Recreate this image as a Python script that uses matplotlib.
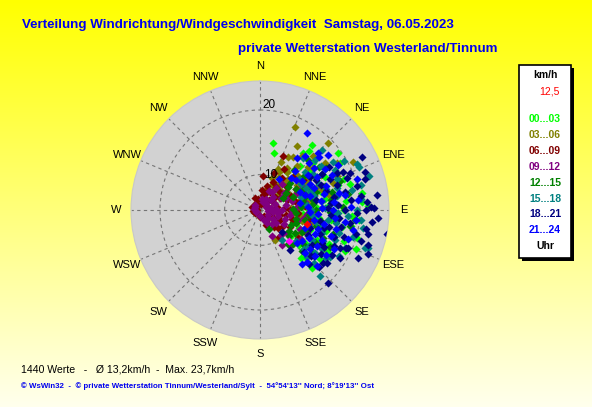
import numpy as np
import matplotlib.pyplot as plt
from matplotlib.patches import Rectangle

# figure size in pixels
W, H = 592, 407

# compass labels, clockwise from north
compass = ["N", "NNE", "NE", "ENE", "E", "ESE", "SE", "SSE",
           "S", "SSW", "SW", "WSW", "W", "WNW", "NW", "NNW"]

# time bins (legend) and their colours
bins = ["00...03", "03...06", "06...09", "09...12", "12...15", "15...18", "18...21", "21...24"]
bin_colors = ["#00FF00", "#808000", "#800000", "#800080", "#008000", "#008080", "#000080", "#0000FF"]

# readings per time bin: (direction in degrees, speed in km/h)
pts_00_03 = [(10.6, 15.5), (14.2, 14.0), (37, 16.0), (38.5, 17.7), (59.7, 19.0), (80.3, 20.4),
             (85.3, 20.3), (106.3, 20.1), (115.8, 19.2), (140, 14.7), (129, 16.9), (138, 16.9),
             (45, 12.5), (52, 14.8), (58, 11.8), (63, 16.2), (68, 13.4), (72, 17.5), (76, 12.2),
             (80, 15.1), (84, 18.2), (88, 13.8), (92, 16.6), (95, 11.5), (98, 14.2), (102, 17.8),
             (105, 12.9), (108, 15.6), (112, 13.3), (116, 16.8), (120, 14.0), (124, 11.9),
             (128, 15.2), (132, 13.1), (48, 15.9), (55, 17.2), (66, 10.8), (86, 10.6), (100, 19.0),
             (110, 18.6), (74, 19.2), (62, 13.0), (42, 14.1), (35, 12.0), (90, 12.4), (118, 12.0),
             (94, 18.9), (50, 10.2), (56, 13.2), (60, 15.0), (64, 17.8), (70, 12.0), (74, 14.8),
             (78, 16.4), (82, 11.2), (86, 15.6), (90, 17.8), (94, 13.4), (98, 16.0), (102, 12.0),
             (106, 14.6), (110, 17.0), (114, 11.4), (118, 15.0), (122, 17.2), (126, 13.6),
             (130, 11.0), (96, 20.0), (70, 18.6), (54, 19.6), (40, 16.8), (136, 15.0), (112, 20.4),
             (88, 21.0)]
pts_03_06 = [(22.9, 18.6), (45.2, 19.4), (62.6, 20.7), (58.7, 18.6), (23.5, 13.0), (26.6, 11.3),
             (25, 8.5), (153.4, 9.6), (123, 11.9), (30, 10.5), (33, 12.6), (36, 9.4), (40, 13.8),
             (42, 11.2), (46, 10.0), (48, 14.9), (52, 12.2), (55, 9.0), (58, 13.6), (60, 15.8),
             (64, 11.0), (68, 14.4), (72, 12.7), (75, 9.8), (80, 13.1), (85, 11.6), (90, 10.2),
             (95, 12.8), (100, 9.2), (105, 11.4), (28, 14.2), (38, 15.5), (44, 16.6), (50, 7.6),
             (62, 8.4), (70, 16.9), (110, 10.6), (20, 9.8), (18, 7.2), (34, 7.8), (78, 15.9),
             (88, 14.5), (24, 11.8), (28, 9.0), (32, 14.6), (36, 12.0), (40, 10.4), (44, 8.6),
             (48, 12.8), (52, 15.4), (56, 11.6), (60, 13.0), (64, 9.6), (68, 12.0), (72, 15.0),
             (76, 11.0), (82, 12.4), (86, 9.2), (92, 13.6), (98, 11.0), (104, 13.0), (115, 12.2),
             (30, 16.4), (54, 17.2), (66, 17.8)]
pts_06_09 = [(23.6, 14.0), (18, 4.5), (280, 2.5), (126.5, 12.2), (120.8, 15.8), (300, 3.2),
             (330, 3.8), (350, 4.6), (10, 5.6), (20, 6.4), (30, 7.0), (40, 5.2), (45, 8.2),
             (50, 6.8), (55, 9.4), (60, 7.6), (65, 5.8), (70, 8.8), (75, 10.2), (80, 6.2),
             (85, 7.9), (90, 9.0), (95, 5.4), (100, 8.3), (105, 6.9), (110, 10.0), (115, 7.4),
             (120, 5.9), (125, 8.6), (130, 6.6), (140, 7.3), (150, 5.0), (160, 6.0), (35, 10.6),
             (25, 9.2), (15, 8.0), (60, 11.2), (85, 11.8), (70, 12.3), (45, 12.0), (270, 2.0),
             (320, 2.6), (180, 3.5), (5, 9.7), (100, 12.6), (12, 3.0), (30, 4.0), (55, 3.6),
             (75, 4.2), (90, 4.8), (110, 4.4), (130, 4.0), (150, 3.4), (200, 2.6), (240, 3.0),
             (260, 3.4), (290, 4.0), (340, 5.2), (5, 6.8), (35, 8.6), (50, 10.0), (65, 9.8),
             (80, 10.8), (95, 10.6), (105, 9.6), (120, 9.8), (135, 8.0), (145, 9.6), (20, 10.8),
             (30, 12.2), (55, 13.0), (75, 13.6), (90, 12.8), (115, 12.4)]
pts_09_12 = [(32.6, 7.2), (240, 2.4), (280, 3.0), (300, 2.8), (60, 3.2), (95, 3.6), (120, 4.2),
             (135, 4.8), (150, 5.6), (100, 5.2), (80, 4.6), (70, 6.0), (110, 6.6), (90, 7.2),
             (60, 7.8), (130, 7.0), (120, 8.4), (100, 9.0), (75, 9.6), (55, 8.8), (45, 6.4),
             (40, 9.8), (85, 10.4), (105, 10.8), (140, 9.4), (115, 11.6), (65, 11.0), (95, 12.2),
             (30, 5.0), (20, 3.8), (125, 12.6), (148, 11.0), (80, 8.2), (10, 4.6), (40, 4.0),
             (70, 3.8), (85, 5.8), (100, 6.4), (125, 5.8), (140, 6.4), (160, 4.4), (180, 3.0),
             (260, 2.2), (320, 3.4), (50, 5.6), (65, 8.6), (90, 9.4), (110, 8.2), (130, 10.0),
             (100, 11.6), (80, 11.8), (60, 12.4), (115, 13.0), (140, 12.0), (155, 8.6), (25, 7.0),
             (35, 8.4)]
pts_12_15 = [(154.7, 7.1), (48, 11.0), (52, 13.5), (56, 9.2), (60, 15.2), (64, 12.0), (68, 10.0),
             (72, 14.0), (76, 16.4), (80, 11.5), (84, 13.2), (88, 9.6), (92, 15.8), (96, 12.4),
             (100, 14.6), (104, 10.4), (108, 16.8), (112, 12.8), (116, 9.8), (120, 14.8),
             (124, 11.2), (128, 13.6), (132, 10.6), (136, 12.2), (58, 17.0), (70, 18.0),
             (88, 17.6), (100, 18.8), (118, 17.2), (40, 13.0), (62, 8.2), (44, 15.6), (50, 10.2),
             (54, 16.2), (60, 11.2), (66, 13.4), (70, 15.6), (74, 11.8), (78, 13.2), (82, 16.0),
             (86, 11.0), (90, 13.6), (94, 10.2), (98, 16.8), (102, 12.0), (106, 14.0), (110, 10.6),
             (114, 15.6), (118, 12.2), (122, 16.4), (126, 10.0), (130, 15.2), (134, 14.0),
             (140, 11.6), (80, 18.6), (96, 19.4)]
pts_15_18 = [(66.7, 21.0), (64.6, 21.0), (72.6, 21.8), (56.6, 18.3), (109.2, 21.9), (110, 21.5),
             (125.9, 17.5), (95.7, 20.2), (143.4, 10.4), (135, 15.2), (137.5, 18.5), (50, 14.0),
             (54, 16.5), (58, 12.4), (62, 18.0), (66, 15.0), (70, 13.2), (74, 17.2), (78, 19.2),
             (82, 14.6), (86, 16.8), (90, 12.8), (94, 18.4), (98, 15.6), (102, 13.8), (106, 17.6),
             (110, 15.2), (114, 19.0), (118, 13.4), (122, 16.2), (126, 14.4), (130, 12.2),
             (134, 16.6), (84, 20.2), (100, 20.6), (72, 11.4), (40, 15.4), (46, 18.2), (120, 18.8),
             (48, 16.4), (52, 12.6), (56, 14.8), (60, 16.0), (64, 12.8), (68, 17.6), (72, 15.6),
             (76, 13.6), (80, 17.0), (84, 12.2), (88, 15.0), (92, 17.0), (96, 13.2), (100, 16.8),
             (104, 15.0), (108, 12.8), (112, 17.4), (116, 15.8), (120, 14.2), (124, 17.8),
             (128, 15.8), (132, 14.0), (90, 19.6), (106, 19.6), (76, 20.6), (60, 19.6)]
pts_18_21 = [(62.5, 22.0), (73.6, 21.2), (82.7, 22.3), (88.3, 21.5), (89, 21.8), (100.9, 23.7),
             (102.6, 21.4), (112.2, 22.2), (116.3, 21.2), (137, 20.0), (107, 20.8), (115.6, 18.5),
             (113.5, 19.5), (121, 19.1), (65.3, 18.9), (67.8, 19.6), (135, 9.3), (143, 12.6),
             (130, 15.9), (134.3, 17.5), (117.5, 13.3), (60, 16.0), (64, 18.0), (68, 15.2),
             (72, 17.4), (76, 20.0), (80, 16.6), (84, 18.8), (88, 15.4), (92, 19.6), (96, 17.2),
             (100, 21.0), (104, 16.0), (108, 18.4), (112, 15.0), (116, 17.6), (120, 16.4),
             (124, 14.6), (128, 18.0), (132, 15.6), (56, 14.2), (94, 22.4), (86, 21.0),
             (104, 19.8), (80, 13.8), (110, 13.2), (70, 21.6), (58, 17.4), (62, 14.8), (66, 16.8),
             (70, 19.0), (74, 15.6), (78, 18.2), (82, 20.2), (86, 17.0), (90, 18.0), (94, 16.0),
             (98, 18.8), (102, 17.6), (106, 15.2), (110, 17.0), (114, 19.2), (118, 15.8),
             (122, 18.0), (126, 16.6), (130, 17.6), (134, 14.4), (138, 16.2), (90, 20.8),
             (96, 21.6), (108, 21.8), (84, 16.0), (100, 14.4)]
pts_21_24 = [(31.3, 18.6), (45.2, 17.4), (31.7, 10.1), (72.4, 20.2), (51.2, 18.3), (142.5, 15.5),
             (134.5, 17.2), (42, 13.0), (46, 15.5), (50, 12.0), (54, 14.2), (58, 16.8), (62, 13.6),
             (66, 11.6), (70, 15.8), (74, 13.0), (78, 17.4), (82, 14.4), (86, 12.2), (90, 16.2),
             (94, 14.0), (98, 18.0), (102, 15.0), (106, 12.6), (110, 16.6), (114, 14.2),
             (118, 17.8), (122, 15.4), (126, 13.0), (130, 16.0), (134, 14.6), (96, 19.6),
             (108, 19.0), (88, 18.8), (60, 18.6), (36, 14.8), (80, 11.0), (40, 15.8), (44, 11.6),
             (48, 17.2), (52, 15.6), (56, 12.8), (60, 15.2), (64, 17.2), (68, 14.0), (72, 12.2),
             (76, 15.2), (80, 18.2), (84, 16.4), (88, 14.6), (92, 12.6), (96, 16.6), (100, 13.4),
             (104, 17.0), (108, 14.4), (112, 12.4), (116, 15.6), (120, 13.6), (124, 17.2),
             (128, 14.8), (132, 12.6), (138, 15.8), (102, 19.4), (84, 19.8)]
all_bins = [pts_00_03, pts_03_06, pts_06_09, pts_09_12, pts_12_15, pts_15_18, pts_18_21, pts_21_24]

# single highlighted readings
odd_point = (136.9, 11.3)
last_point = (106.7, 12.5)
max_speed = 23.7


def rr(v):
    # the chart's radial scale grows roughly like speed^1.5
    return np.asarray(v, dtype=float) ** 1.5


def fx(x):
    return x / W


def fy(y):
    return 1 - y / H


fig = plt.figure(figsize=(W / 100, H / 100), dpi=100)

# yellow gradient background
bg = fig.add_axes([0, 0, 1, 1])
bg.axis("off")
fade = np.linspace(0.0, 0.93, 256)[:, None]
img = np.dstack([np.ones_like(fade), np.ones_like(fade), fade])
bg.imshow(img, aspect="auto", extent=[0, 1, 0, 1])

# polar plot
ax = fig.add_axes([fx(131), fy(339), 258 / W, 258 / H], projection="polar")
ax.set_theta_zero_location("N")
ax.set_theta_direction(-1)
ax.set_facecolor("#D2D2D2")
ax.set_ylim(0, rr(max_speed))
ax.set_xticks(np.radians(np.arange(0, 360, 22.5)))
ax.set_xticklabels([])
ax.set_yticks(rr([10, 20]))
ax.set_yticklabels([])
ax.grid(True, color="#757575", linestyle=(0, (3, 3)), linewidth=0.8)
ax.spines["polar"].set_color("#C8C8C8")

for pts, col in zip(all_bins, bin_colors):
    d, s = np.array(pts).T
    ax.scatter(np.radians(d), rr(s), marker="D", s=17, c=col, linewidths=0, zorder=3)
ax.scatter(np.radians(odd_point[0]), rr(odd_point[1]), marker="D", s=17, c="#FF00FF", linewidths=0, zorder=4)
ax.scatter(np.radians(last_point[0]), rr(last_point[1]), marker="D", s=17, c="#FF0000", linewidths=0, zorder=4)

ax.annotate("10", xy=(0, rr(10)), xytext=(3, 0), textcoords="offset points",
            ha="left", va="center", fontsize=8.5, family="Liberation Sans")
ax.annotate("20", xy=(0, rr(20)), xytext=(2, 3.5), textcoords="offset points",
            ha="left", va="center", fontsize=8.5, family="Liberation Sans")

for i, name in enumerate(compass):
    ax.text(np.radians(22.5 * i), rr(max_speed) * 144 / 129, name, ha="center", va="center",
            fontsize=8, family="Liberation Sans")

# titles
fig.text(fx(22), fy(25), "Verteilung Windrichtung/Windgeschwindigkeit  Samstag, 06.05.2023",
         color="#0000EE", fontsize=9.6, fontweight="bold", family="Liberation Sans", va="center")
fig.text(fx(238), fy(49), "private Wetterstation Westerland/Tinnum",
         color="#0000EE", fontsize=9.6, fontweight="bold", family="Liberation Sans", va="center")

# legend box with shadow
fig.add_artist(Rectangle((fx(522), fy(261)), 52 / W, 193 / H, transform=fig.transFigure,
                         facecolor="black", edgecolor="none"))
fig.add_artist(Rectangle((fx(519), fy(258)), 52 / W, 193 / H, transform=fig.transFigure,
                         facecolor="white", edgecolor="black", linewidth=1.2))
fig.text(fx(545), fy(75), "km/h", ha="center", va="center", fontsize=7.5, fontweight="bold",
         family="Liberation Sans")
fig.text(fx(560), fy(92), "12,5", ha="right", va="center", fontsize=7.5, color="#FF0000",
         family="Liberation Sans")
for i, (lab, col) in enumerate(zip(bins, bin_colors)):
    fig.text(fx(545), fy(119 + 15.9 * i), lab, ha="center", va="center", fontsize=7.5,
             fontweight="bold", color=col, family="Liberation Sans")
fig.text(fx(545), fy(246), "Uhr", ha="center", va="center", fontsize=7.5, fontweight="bold",
         family="Liberation Sans")

# bottom lines
fig.text(fx(21), fy(369), "1440 Werte   -   Ø 13,2km/h  -  Max. 23,7km/h", fontsize=7.6,
         family="Liberation Sans", va="center")
fig.text(fx(21), fy(386),
         "© WsWin32  -  © private Wetterstation Tinnum/Westerland/Sylt  -  54°54'13'' Nord; 8°19'13'' Ost",
         color="#0000EE", fontsize=5.7, fontweight="bold", family="Liberation Sans", va="center")

fig.savefig("out.png", dpi=100)
